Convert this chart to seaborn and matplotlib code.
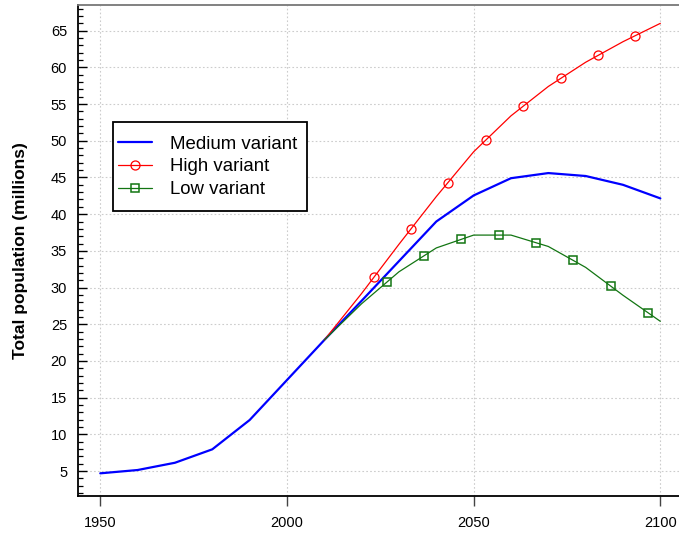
import numpy as np
import pandas as pd
import matplotlib
matplotlib.use("Agg")
import matplotlib.pyplot as plt
import seaborn as sns
from matplotlib.ticker import MultipleLocator
from matplotlib.patches import Rectangle

# ---- data (millions) ----
medium_years = [1950, 1960, 1970, 1980, 1990, 2000, 2010, 2020, 2030, 2040,
                2050, 2060, 2070, 2080, 2090, 2100]
medium_values = [4.69, 5.14, 6.13, 7.96, 11.95, 17.4, 22.85, 28.2, 33.6, 39.0,
                 42.55, 44.9, 45.6, 45.2, 44.0, 42.15]

variant_years = [2010, 2020, 2030, 2040, 2050, 2060, 2070, 2080, 2090, 2100]
high_values = [22.85, 29.2, 35.9, 42.4, 48.5, 53.4, 57.4, 60.7, 63.5, 66.0]
low_values = [22.85, 27.8, 32.15, 35.4, 37.15, 37.15, 35.6, 32.75, 28.95, 25.4]

high_marker_years = [2023.3, 2033.2, 2043.1, 2053.3, 2063.3, 2073.3, 2083.3, 2093.3]
low_marker_years = [2026.7, 2036.6, 2046.7, 2056.7, 2066.7, 2076.7, 2086.7, 2096.7]

x_ticks = [1950, 2000, 2050, 2100]
y_ticks = [5, 10, 15, 20, 25, 30, 35, 40, 45, 50, 55, 60, 65]


def with_markers(years, values, marker_years):
    """Insert marker positions into the polyline (linear, same shape)."""
    allx = np.array(sorted(set(years) | set(marker_years)), dtype=float)
    ally = np.interp(allx, years, values)
    idx = [int(np.argmin(np.abs(allx - m))) for m in marker_years]
    return pd.DataFrame({"year": allx, "pop": ally}), idx


sns.set_style("white")
plt.rcParams["font.family"] = ["Liberation Sans", "DejaVu Sans"]
plt.rcParams["text.color"] = "black"
plt.rcParams["axes.labelcolor"] = "black"
plt.rcParams["xtick.color"] = "black"
plt.rcParams["ytick.color"] = "black"

fig = plt.figure(figsize=(6.79, 5.35), dpi=100)
ax = fig.add_axes([77.5 / 679, 39 / 535, 1 - 77.5 / 679, 491 / 535])

med_df = pd.DataFrame({"year": medium_years, "pop": medium_values})
high_df, high_idx = with_markers(variant_years, high_values, high_marker_years)
low_df, low_idx = with_markers(variant_years, low_values, low_marker_years)

sns.lineplot(data=med_df, x="year", y="pop", ax=ax, color="#0000ff", lw=1.6,
             label="Medium variant", sort=False, estimator=None, zorder=3)
sns.lineplot(data=high_df, x="year", y="pop", ax=ax, color="#ff0000", lw=0.9,
             marker="o", markersize=6.5, markerfacecolor="none",
             markeredgecolor="#ff0000", markeredgewidth=0.9, markevery=high_idx,
             label="High variant", sort=False, estimator=None, zorder=4)
sns.lineplot(data=low_df, x="year", y="pop", ax=ax, color="#127512", lw=0.9,
             marker="s", markersize=5.5, markerfacecolor="none",
             markeredgecolor="#127512", markeredgewidth=1.1, markevery=low_idx,
             label="Low variant", sort=False, estimator=None, zorder=4)

ax.set_xlim(1943.9, 2105.0)
ax.set_ylim(1.6, 68.5)
ax.set_xticks(x_ticks)
ax.set_yticks(y_ticks)
ax.yaxis.set_minor_locator(MultipleLocator(1))

ax.grid(True, which="major", color="#cccccc", linestyle=(0, (1.5, 2.0)), lw=0.8)
ax.set_axisbelow(True)

for s in ["left", "bottom"]:
    ax.spines[s].set_color("black")
    ax.spines[s].set_linewidth(1.3)
ax.spines["right"].set_visible(False)
ax.spines["top"].set_color("#777777")
ax.spines["top"].set_linewidth(1.3)

ax.tick_params(axis="y", which="major", direction="in", length=6.3, width=1.0,
               color="black", labelcolor="black", labelsize=10.5, pad=7.5, left=True)
ax.tick_params(axis="y", which="minor", direction="in", length=3.8, width=0.9,
               color="black", left=True)
ax.tick_params(axis="x", which="major", direction="out", length=7, width=1.0,
               color="#444444", labelcolor="black", labelsize=10.5, pad=7.5,
               bottom=True)

ax.set_xlabel("")
ax.set_ylabel("Total population (millions)", fontsize=12.5, fontweight="bold",
              color="black")
ax.yaxis.set_label_coords(-0.082, 0.5)

# legend frame drawn as a plain box, legend entries placed inside it
box = Rectangle((0.0595, 0.5804), 0.3215, 0.1813, transform=ax.transAxes,
                facecolor="white", edgecolor="black", lw=1.3, zorder=9)
ax.add_patch(box)
leg = ax.legend(loc="upper left", bbox_to_anchor=(0.0673, 0.7335),
                borderaxespad=0, fontsize=13.4, frameon=False, handlelength=1.85,
                handletextpad=0.92, labelspacing=0.3, borderpad=0)
leg.set_zorder(10)
for t in leg.get_texts():
    t.set_color("black")

fig.savefig("out.png", dpi=100)
